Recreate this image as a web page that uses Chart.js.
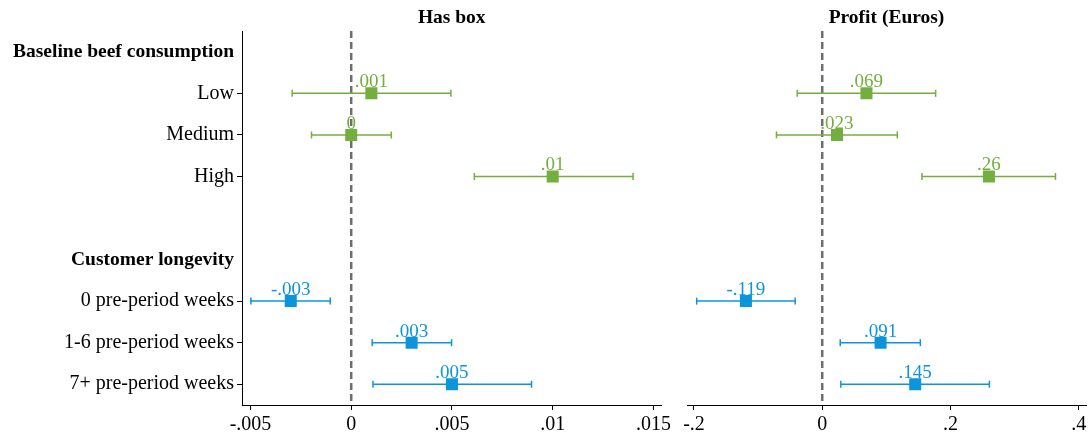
<!DOCTYPE html>
<html>
<head>
<meta charset="utf-8">
<script src="https://cdn.jsdelivr.net/npm/chart.js@4"></script>
<style>
  body { margin: 0; background: #fff; }
  #wrap { position: relative; width: 1088px; height: 436px; overflow: hidden; }
  #cLeft { position: absolute; left: 0; top: 0; }
  #cRight { position: absolute; left: 670px; top: 0; }
</style>
</head>
<body>
<div id="wrap">
  <canvas id="cLeft" width="670" height="436"></canvas>
  <canvas id="cRight" width="440" height="436"></canvas>
</div>
<script>
// linhas do gráfico (cabeçalhos em negrito, sem tick)
const rowLabels = ['Baseline beef consumption', 'Low', 'Medium', 'High', '',
                   'Customer longevity', '0 pre-period weeks', '1-6 pre-period weeks', '7+ pre-period weeks'];
const headerRows = [0, 5];
const blankRows = [4];
const beefRows = [1, 2, 3];
const longevityRows = [6, 7, 8];

// Has box
const boxBeefEst = [0.001, 0, 0.01];
const boxBeefLo = [-0.00293, -0.00197, 0.00611];
const boxBeefHi = [0.00495, 0.00199, 0.01399];
const boxBeefText = ['.001', '0', '.01'];
const boxLongEst = [-0.003, 0.003, 0.005];
const boxLongLo = [-0.00498, 0.00104, 0.00108];
const boxLongHi = [-0.00104, 0.00498, 0.00895];
const boxLongText = ['-.003', '.003', '.005'];
const boxTicks = [-0.005, 0, 0.005, 0.01, 0.015];
const boxTickText = ['-.005', '0', '.005', '.01', '.015'];

// Profit (Euros)
const profitBeefEst = [0.069, 0.023, 0.26];
const profitBeefLo = [-0.039, -0.0714, 0.1556];
const profitBeefHi = [0.1769, 0.1171, 0.3638];
const profitBeefText = ['.069', '.023', '.26'];
const profitLongEst = [-0.119, 0.091, 0.145];
const profitLongLo = [-0.1958, 0.0281, 0.029];
const profitLongHi = [-0.0422, 0.153, 0.2607];
const profitLongText = ['-.119', '.091', '.145'];
const profitTicks = [-0.2, 0, 0.2, 0.4];
const profitTickText = ['-.2', '0', '.2', '.4'];

const verde = '#74ae3e';
const azul = '#0d95db';
const fonte = 'Liberation Serif, Times New Roman, serif';

function montarGrupo(rows, est, lo, hi, texto, cor) {
    const sets = [];
    rows.forEach((r, i) => {
        sets.push({
            type: 'line',
            data: [{ x: lo[i], y: rowLabels[r] }, { x: hi[i], y: rowLabels[r] }],
            borderColor: cor,
            borderWidth: 1.5,
            pointStyle: 'line',
            pointRotation: 90,
            pointRadius: 3.5,
            pointBorderColor: cor,
            pointBorderWidth: 1.5,
            pointHoverRadius: 3.5
        });
    });
    sets.push({
        type: 'scatter',
        data: rows.map((r, i) => ({ x: est[i], y: rowLabels[r] })),
        pointStyle: 'rect',
        pointRadius: 8.5,
        pointHoverRadius: 8.5,
        backgroundColor: cor,
        borderColor: cor,
        borderWidth: 0,
        rotulos: texto,
        corRotulo: cor
    });
    return sets;
}

// linha tracejada no zero + rótulos + título
const extras = {
    id: 'extras',
    beforeDatasetsDraw(chart) {
        const { ctx, chartArea, scales } = chart;
        const x0 = scales.x.getPixelForValue(0);
        ctx.save();
        ctx.strokeStyle = '#6e6e6e';
        ctx.lineWidth = 2.5;
        ctx.setLineDash([7, 4]);
        ctx.beginPath();
        ctx.moveTo(x0, chartArea.top);
        ctx.lineTo(x0, chartArea.bottom);
        ctx.stroke();
        ctx.restore();
    },
    afterDatasetsDraw(chart) {
        const { ctx, chartArea } = chart;
        ctx.save();
        ctx.font = '19px ' + fonte;
        ctx.textAlign = 'center';
        ctx.textBaseline = 'alphabetic';
        chart.data.datasets.forEach((ds, di) => {
            if (!ds.rotulos) return;
            ctx.fillStyle = ds.corRotulo;
            chart.getDatasetMeta(di).data.forEach((pt, i) => {
                ctx.fillText(ds.rotulos[i], pt.x, pt.y - 6);
            });
        });
        ctx.fillStyle = '#000';
        ctx.font = 'bold 19.5px ' + fonte;
        ctx.textBaseline = 'middle';
        ctx.fillText(chart.options.titulo, (chartArea.left + chartArea.right) / 2, 18);
        ctx.restore();
    }
};

function criarGrafico(id, titulo, datasets, xmin, xmax, tickVals, tickText, mostrarY, padding) {
    return new Chart(document.getElementById(id), {
        data: { labels: rowLabels, datasets },
        options: {
            responsive: false,
            animation: false,
            devicePixelRatio: 1,
            titulo,
            layout: { padding },
            plugins: { legend: { display: false }, tooltip: { enabled: false } },
            scales: {
                x: {
                    type: 'linear',
                    min: xmin,
                    max: xmax,
                    border: { display: true, color: '#000', width: 1 },
                    grid: { drawOnChartArea: false, drawTicks: true, tickLength: 5, tickColor: '#000' },
                    ticks: {
                        color: '#000',
                        font: { family: fonte, size: 20 },
                        padding: 3,
                        maxRotation: 0,
                        autoSkip: false,
                        callback: (v, i) => tickText[i]
                    },
                    afterBuildTicks: s => { s.ticks = tickVals.map(v => ({ value: v })); },
                    afterFit: s => { s.height = 31; s.paddingLeft = 0; s.paddingRight = 0; }
                },
                y: {
                    type: 'category',
                    offset: true,
                    display: mostrarY,
                    border: { display: true, color: '#000', width: 1 },
                    grid: {
                        drawOnChartArea: false,
                        tickLength: 5,
                        tickColor: c => (headerRows.includes(c.index) || blankRows.includes(c.index)) ? 'rgba(0,0,0,0)' : '#000'
                    },
                    ticks: {
                        color: '#000',
                        padding: 3,
                        autoSkip: false,
                        font: c => ({ family: fonte, size: headerRows.includes(c.index) ? 19.5 : 20, weight: headerRows.includes(c.index) ? 'bold' : 'normal' })
                    },
                    afterFit: s => { if (mostrarY) s.width = 242; }
                }
            }
        },
        plugins: [extras]
    });
}

const dadosBox = montarGrupo(beefRows, boxBeefEst, boxBeefLo, boxBeefHi, boxBeefText, verde)
    .concat(montarGrupo(longevityRows, boxLongEst, boxLongLo, boxLongHi, boxLongText, azul));
const dadosProfit = montarGrupo(beefRows, profitBeefEst, profitBeefLo, profitBeefHi, profitBeefText, verde)
    .concat(montarGrupo(longevityRows, profitLongEst, profitLongLo, profitLongHi, profitLongText, azul));

criarGrafico('cLeft', 'Has box', dadosBox, -0.00542, 0.0154, boxTicks, boxTickText, true,
    { left: 0, right: 8, top: 31, bottom: 0 });
criarGrafico('cRight', 'Profit (Euros)', dadosProfit, -0.2109, 0.4114, profitTicks, profitTickText, false,
    { left: 17, right: 24, top: 31, bottom: 0 });
</script>
</body>
</html>
